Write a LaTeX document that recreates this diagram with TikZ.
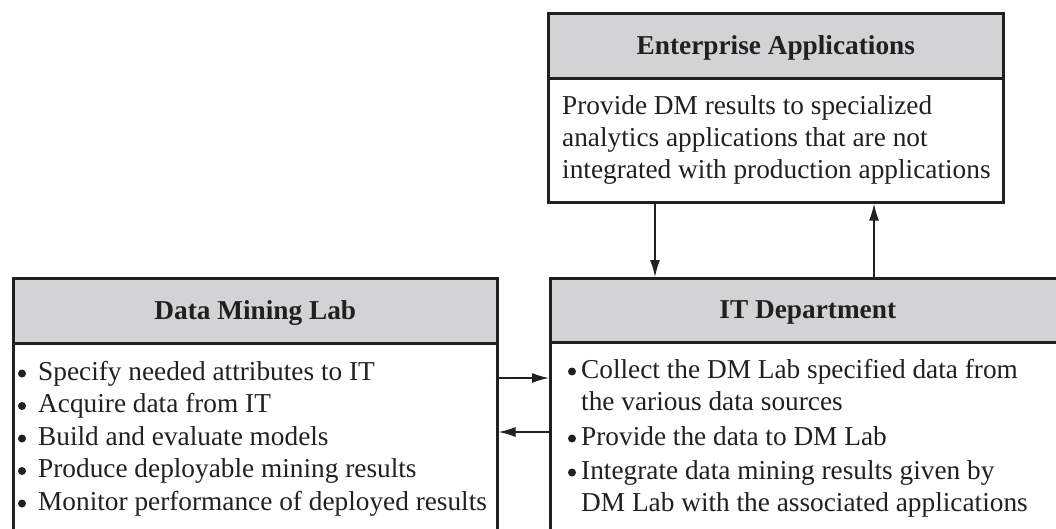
\documentclass[tikz,border=0pt]{standalone}
\usepackage{fontspec}
\setmainfont{Liberation Serif}
\usetikzlibrary{arrows.meta}
\definecolor{ink}{HTML}{231F20}
\definecolor{hdrgray}{HTML}{D1D3D4}
\begin{document}
\begin{tikzpicture}[x=1pt,y=-1pt,
  boxline/.style={draw=ink, line width=2.6pt},
  hdr/.style={boxline, fill=hdrgray, anchor=north west, inner sep=0pt, text=ink,
    font=\bfseries\fontsize{27.3}{32}\selectfont, text height=20pt, text depth=3pt},
  bodybox/.style={boxline, fill=white, anchor=north west, inner sep=0pt},
  txt/.style={anchor=base west, inner sep=0pt, text=ink, font=\fontsize{27.3}{32}\selectfont},
  bul/.style={circle, fill=ink, inner sep=0pt, minimum size=8pt},
  arr/.style={draw=ink, line width=1.5pt, -{Latex[length=17pt,width=10pt]}}]
\clip (0,0) rectangle (1056,529);
% Enterprise Applications
\node[hdr, minimum width=455pt, minimum height=65pt] (eah) at (547,12) {Enterprise Applications};
\node[bodybox, minimum width=455pt, minimum height=124pt] (eab) at (547,77) {};
\node[txt] (ea1) at (562,115) {Provide DM results to specialized};
\node[txt] (ea2) at (562,146.7) {analytics applications that are not};
\node[txt] (ea3) at (562,178.4) {integrated with production applications};
% Data Mining Lab
\node[hdr, minimum width=484pt, minimum height=65pt] (dmh) at (12,277) {Data Mining Lab};
\node[bodybox, minimum width=484pt, minimum height=250pt] (dmb) at (12,342) {};
\foreach \y/\t [count=\i] in {380/Specify needed attributes to IT,
    412.5/Acquire data from IT,
    445/Build and evaluate models,
    477.5/Produce deployable mining results,
    510/Monitor performance of deployed results}{
  \node[bul] (dmbul\i) at (22,\y-6.5) {};
  \node[txt] (dmt\i) at (38,\y) {\t};
}
% IT Department
\node[hdr, minimum width=515pt, minimum height=64pt] (ith) at (549,277) {IT Department};
\node[bodybox, minimum width=515pt, minimum height=250pt] (itb) at (549,341) {};
\node[bul] (itbul1) at (572,371.5) {};
\node[txt] (itt1) at (581,378) {Collect the DM Lab specified data from};
\node[txt] (itt1b) at (581,410) {the various data sources};
\node[bul] (itbul2) at (572,438.5) {};
\node[txt] (itt2) at (581,445) {Provide the data to DM Lab};
\node[bul] (itbul3) at (572,472.5) {};
\node[txt] (itt3) at (581,479) {Integrate data mining results given by};
\node[txt] (itt3b) at (581,511) {DM Lab with the associated applications};
% connectors
\coordinate (dn) at (655,0);
\coordinate (up) at (874,0);
\coordinate (r1) at (0,378);
\coordinate (r2) at (0,432);
\draw[arr] (dn |- eab.south) -- (dn |- ith.north);
\draw[arr] (up |- ith.north) -- (up |- eab.south);
\draw[arr] (r1 -| dmb.east) -- (r1 -| itb.west);
\draw[arr] (r2 -| itb.west) -- (r2 -| dmb.east);
\end{tikzpicture}
\end{document}
